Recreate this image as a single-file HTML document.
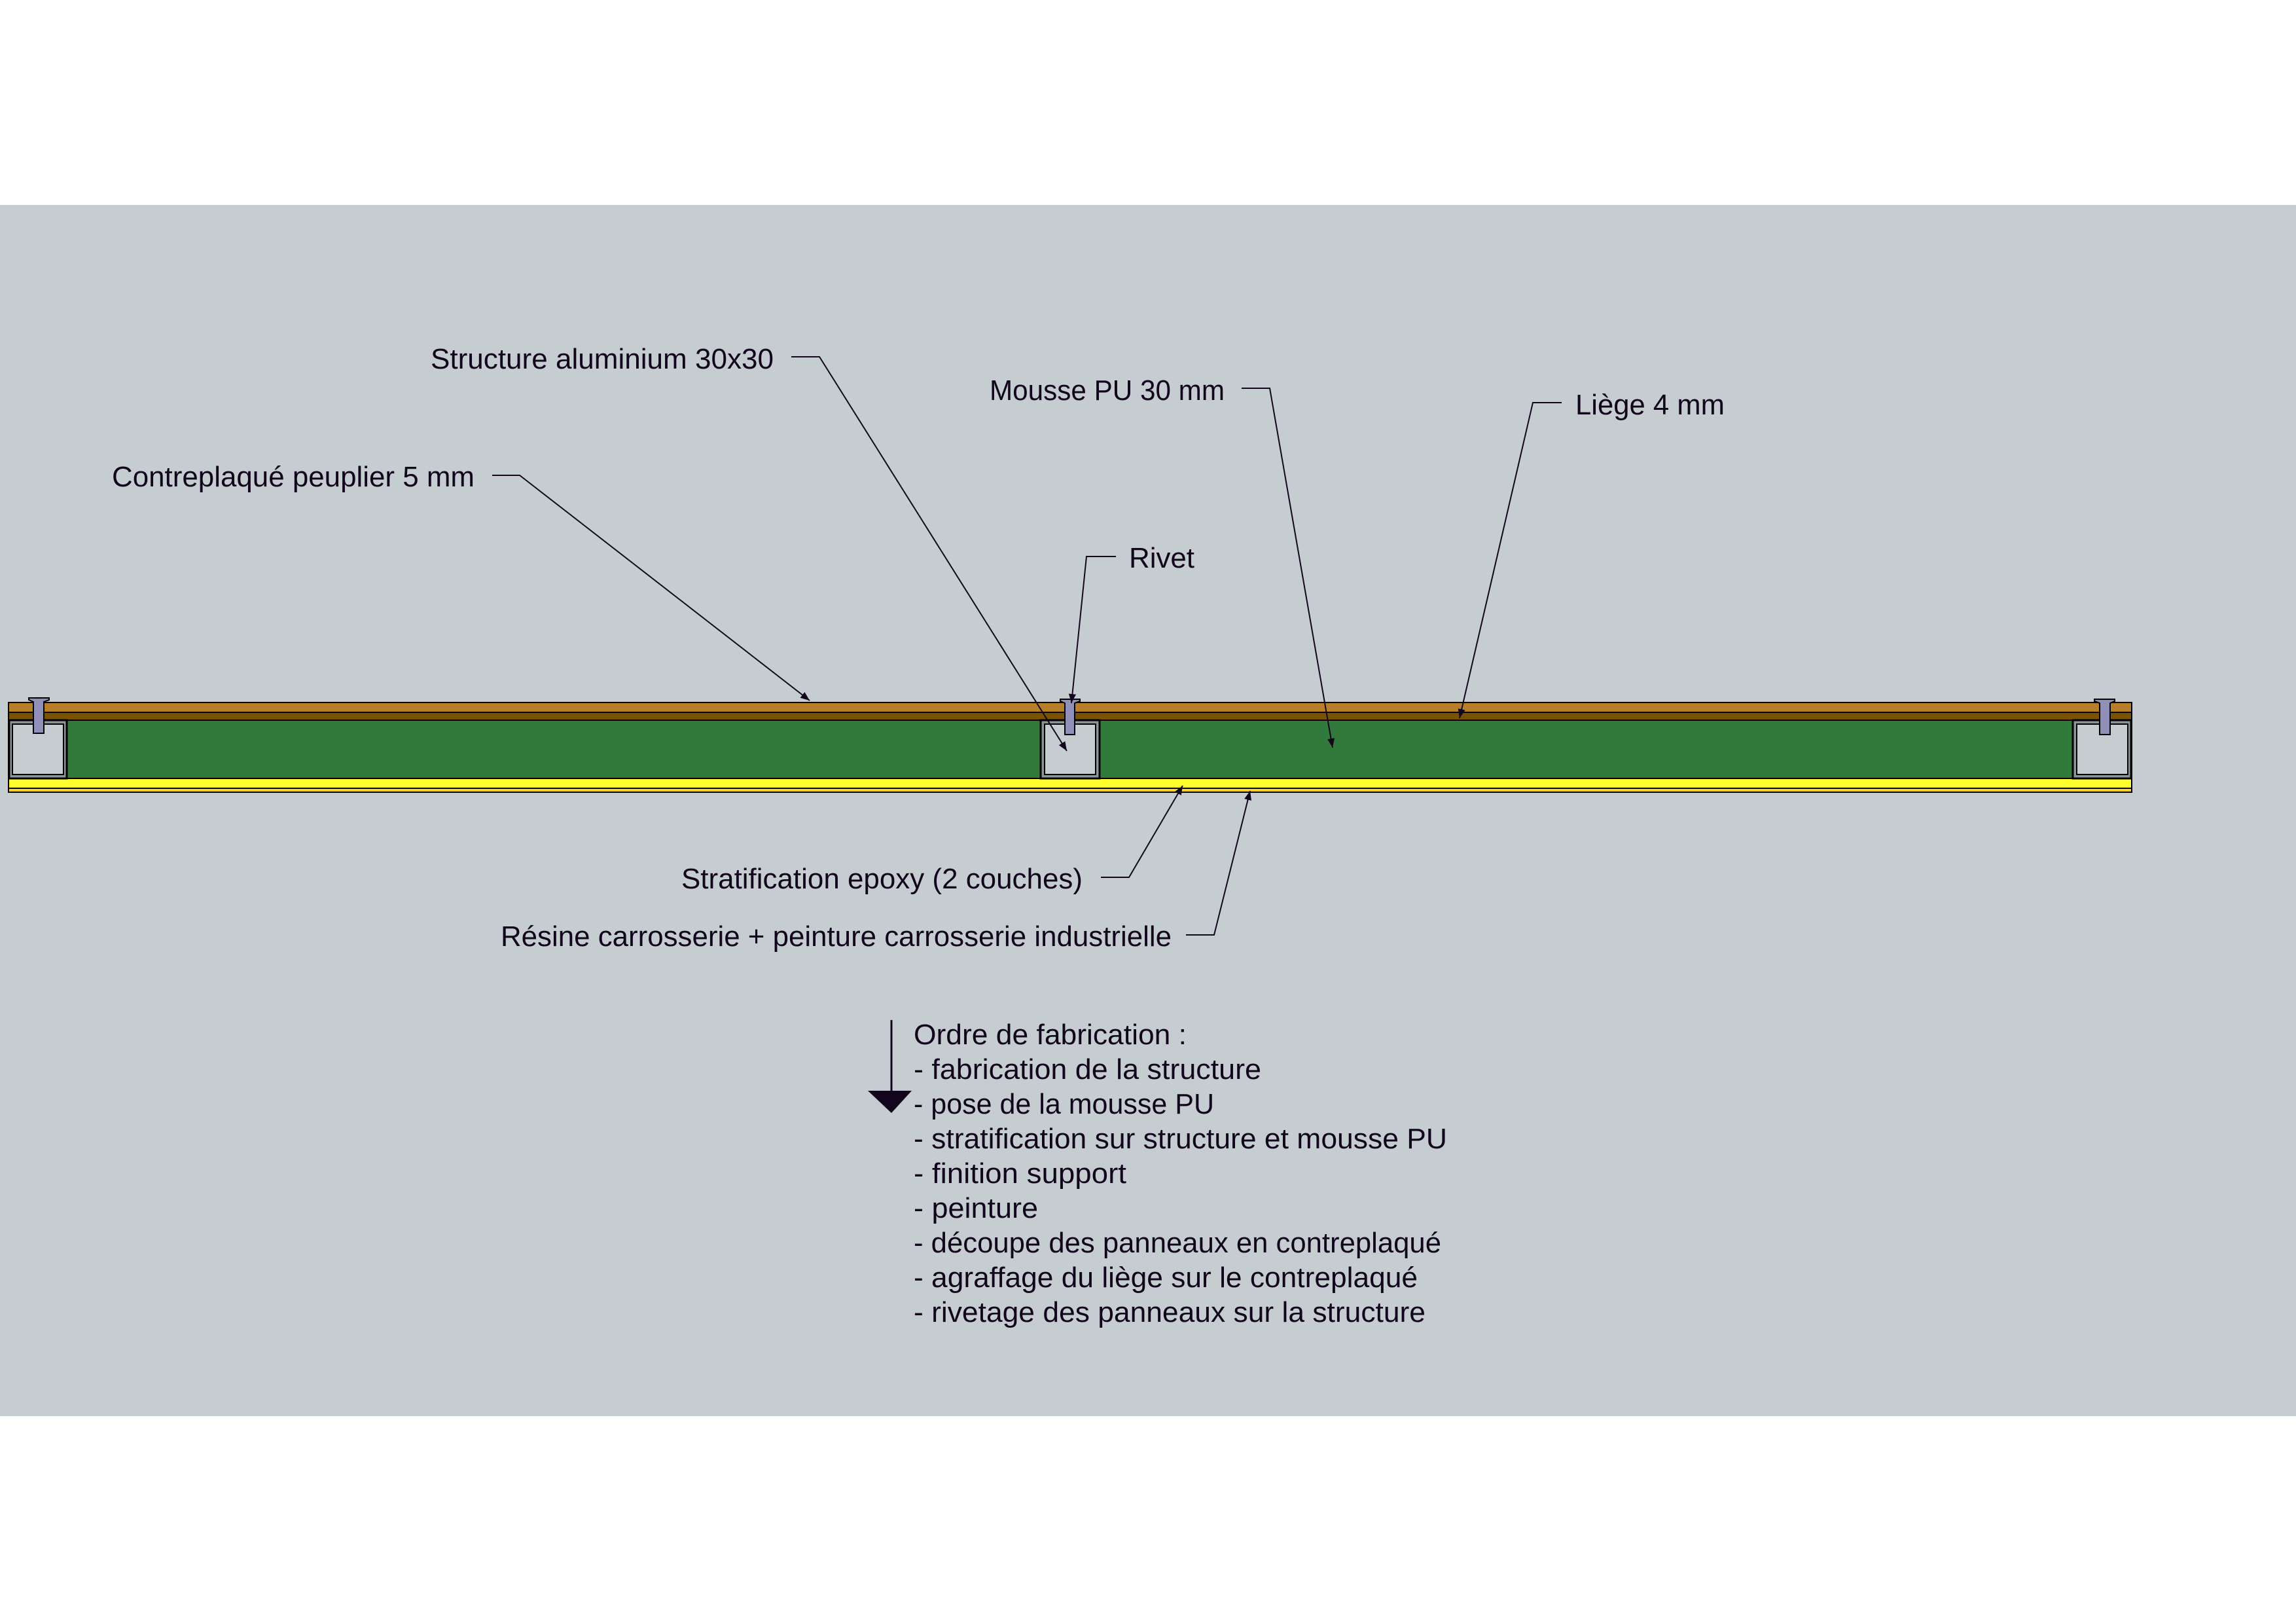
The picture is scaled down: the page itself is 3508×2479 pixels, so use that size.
<!DOCTYPE html>
<html><head><meta charset="utf-8"><style>
html,body{margin:0;padding:0;background:#fff}
svg{display:block}
text{font-family:"Liberation Sans",sans-serif;font-size:44px;fill:#12061c}
</style></head><body>
<svg width="3508" height="2479" viewBox="0 0 3508 2479" xmlns="http://www.w3.org/2000/svg">
<defs>
<marker id="ah" viewBox="0 0 10 10" refX="10" refY="5" markerWidth="14" markerHeight="14" markerUnits="userSpaceOnUse" orient="auto"><path d="M0,1 L10,5 L0,9 Z" fill="#12061c"/></marker>
</defs>
<rect x="0" y="313" width="3508" height="1850" fill="#c5cdd1"/>

<!-- panel layers -->
<rect x="13" y="1073" width="3244" height="15" fill="#b87f2b" stroke="#000" stroke-width="2"/>
<rect x="13" y="1088" width="3244" height="12" fill="#7a5200" stroke="#000" stroke-width="2"/>
<rect x="13" y="1100" width="3244" height="89" fill="#327a3b" stroke="#000" stroke-width="2"/>
<rect x="13" y="1189" width="3244" height="15" fill="#ffff2e" stroke="#000" stroke-width="2"/>
<rect x="13" y="1204" width="3244" height="6" fill="#ffd42a" stroke="#000" stroke-width="2"/>

<!-- aluminium boxes -->
<g fill="#8c9696" stroke="#000" stroke-width="3">
<rect x="14" y="1100" width="88" height="89"/>
<rect x="1590" y="1100" width="90" height="89"/>
<rect x="1167" y="1100" width="0" height="0"/>
<rect x="3167" y="1100" width="89" height="89"/>
</g>
<g fill="#c5cdd1" stroke="#000" stroke-width="2">
<rect x="19" y="1106" width="78" height="77"/>
<rect x="1596" y="1106" width="78" height="77"/>
<rect x="3173" y="1106" width="78" height="77"/>
</g>

<!-- rivets -->
<g fill="#9190b8" stroke="#000" stroke-width="2">
<path d="M44,1066 L75,1066 L75,1069 L67,1072 L67,1120 L51,1120 L51,1072 L44,1069 Z"/>
<path d="M1620,1068 L1650,1068 L1650,1071 L1642,1074 L1642,1122 L1627,1122 L1627,1074 L1620,1071 Z"/>
<path d="M3200,1068 L3231,1068 L3231,1071 L3224,1074 L3224,1122 L3208,1122 L3208,1074 L3200,1071 Z"/>
</g>

<!-- leaders -->
<g stroke="#12061c" stroke-width="2" fill="none" marker-end="url(#ah)">
<polyline points="752,726 794,726 1237,1070"/>
<polyline points="1209,545 1252,545 1630,1147"/>
<polyline points="1897,593 1940,593 2036,1142"/>
<polyline points="2386,615 2342,615 2230,1097"/>
<polyline points="1705,850 1660,850 1637,1074"/>
<polyline points="1682,1340 1725,1340 1807,1200"/>
<polyline points="1812,1428 1855,1428 1910,1208"/>
</g>

<!-- order arrow -->
<line x1="1362" y1="1558" x2="1362" y2="1690" stroke="#12061c" stroke-width="3"/>
<path d="M1326,1666 L1393,1666 L1362,1700 Z" fill="#12061c"/>

<!-- labels -->
<text x="658" y="563" textLength="524" lengthAdjust="spacingAndGlyphs">Structure aluminium 30x30</text>
<text x="171" y="743" textLength="554" lengthAdjust="spacingAndGlyphs">Contreplaqué peuplier 5 mm</text>
<text x="1512" y="611" textLength="359" lengthAdjust="spacingAndGlyphs">Mousse PU 30 mm</text>
<text x="2407" y="633" textLength="228" lengthAdjust="spacingAndGlyphs">Liège 4 mm</text>
<text x="1725" y="867" textLength="100" lengthAdjust="spacingAndGlyphs">Rivet</text>
<text x="1041" y="1357" textLength="613" lengthAdjust="spacingAndGlyphs">Stratification epoxy (2 couches)</text>
<text x="765" y="1445" textLength="1025" lengthAdjust="spacingAndGlyphs">Résine carrosserie + peinture carrosserie industrielle</text>

<text x="1396" y="1595" textLength="417" lengthAdjust="spacingAndGlyphs">Ordre de fabrication :</text>
<text x="1396" y="1648" textLength="531" lengthAdjust="spacingAndGlyphs">- fabrication de la structure</text>
<text x="1396" y="1701" textLength="459" lengthAdjust="spacingAndGlyphs">- pose de la mousse PU</text>
<text x="1396" y="1754" textLength="815" lengthAdjust="spacingAndGlyphs">- stratification sur structure et mousse PU</text>
<text x="1396" y="1807" textLength="325" lengthAdjust="spacingAndGlyphs">- finition support</text>
<text x="1396" y="1860" textLength="190" lengthAdjust="spacingAndGlyphs">- peinture</text>
<text x="1396" y="1913" textLength="806" lengthAdjust="spacingAndGlyphs">- découpe des panneaux en contreplaqué</text>
<text x="1396" y="1966" textLength="770" lengthAdjust="spacingAndGlyphs">- agraffage du liège sur le contreplaqué</text>
<text x="1396" y="2019" textLength="782" lengthAdjust="spacingAndGlyphs">- rivetage des panneaux sur la structure</text>
</svg>
</body></html>
